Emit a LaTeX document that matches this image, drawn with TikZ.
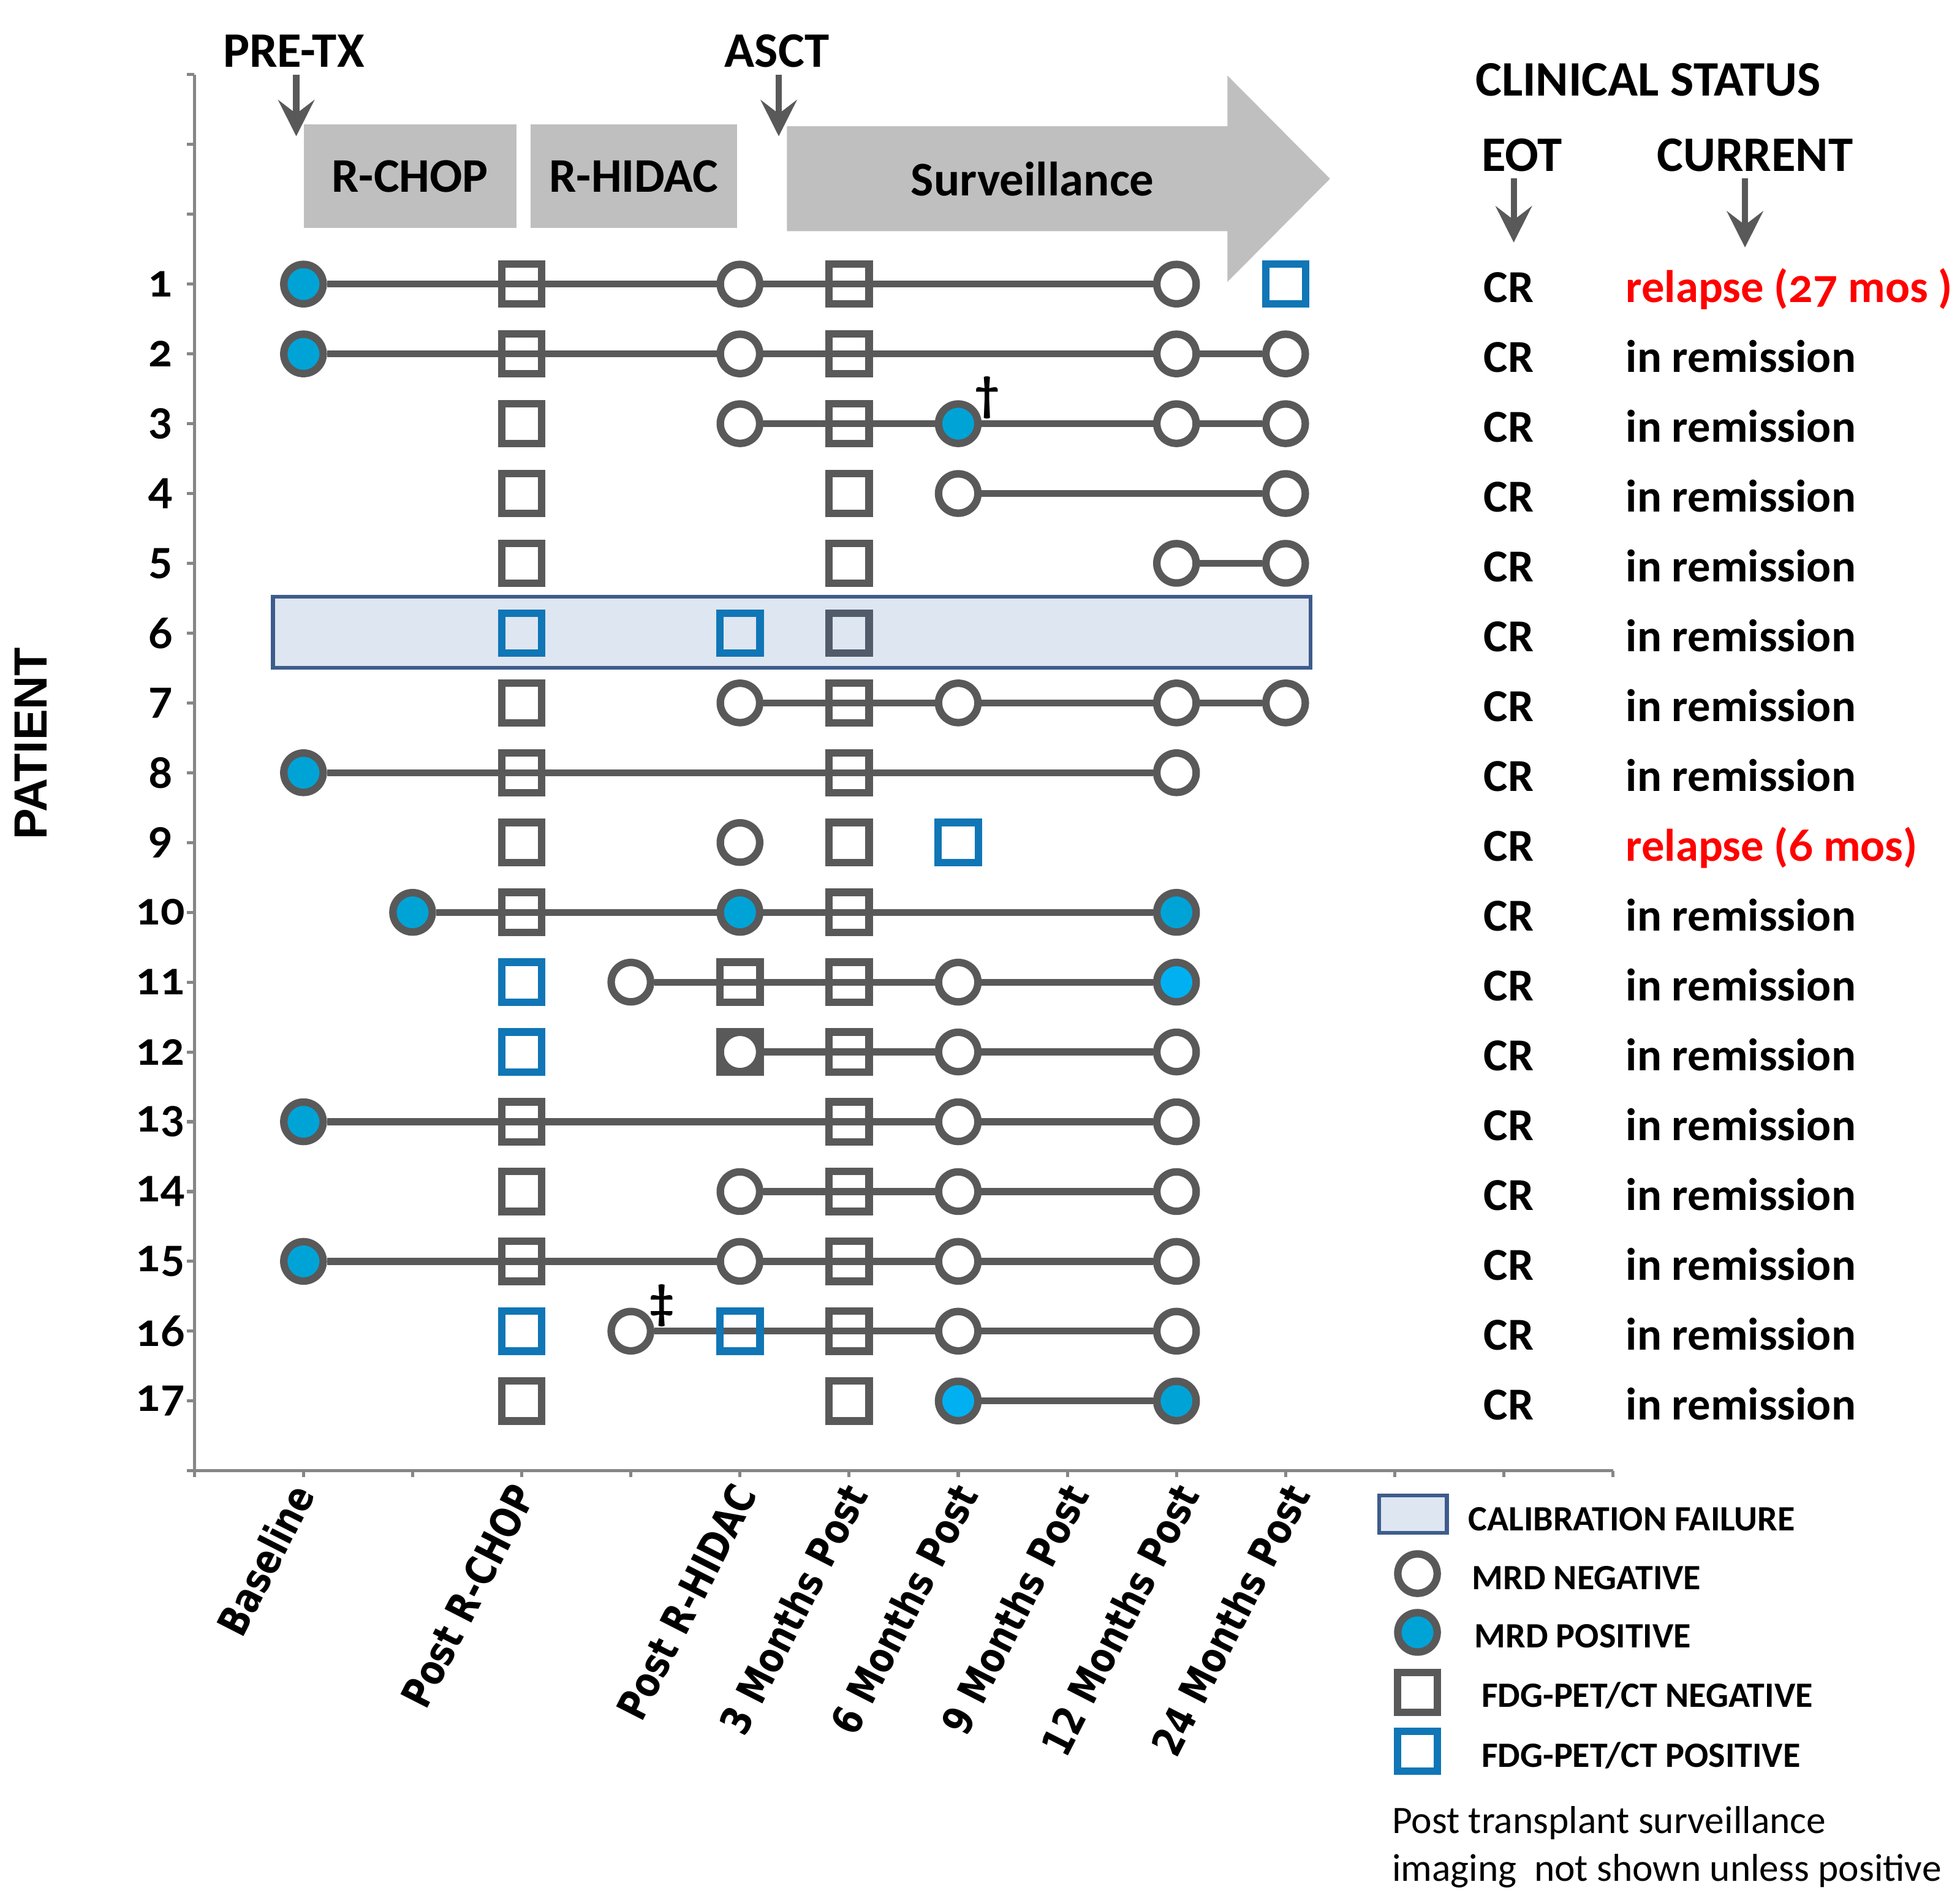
\documentclass[tikz,border=0pt]{standalone}
\usepackage{fontspec}
\setmainfont{Carlito}[Numbers=OldStyle]
\newfontfamily\numfont{Lato}[Numbers=OldStyle]
\newfontfamily\catfont{DejaVu Sans}[FakeStretch=0.82]
\newfontfamily\ptfont{Liberation Sans}
\usetikzlibrary{arrows.meta,positioning,backgrounds}

\definecolor{mkgray}{RGB}{89,89,89}
\definecolor{axgray}{RGB}{134,134,134}
\definecolor{bargray}{RGB}{191,191,191}
\definecolor{mrdcyan}{RGB}{0,163,214}
\definecolor{mrdlight}{RGB}{0,176,240}
\definecolor{petblue}{RGB}{16,118,182}
\definecolor{calfill}{RGB}{222,230,241}
\definecolor{caledge}{RGB}{62,92,140}
\definecolor{slategray}{RGB}{82,91,106}
\definecolor{relred}{RGB}{255,0,0}

\begin{document}
\begin{tikzpicture}[x=0.1mm,y=-0.1mm,
    mrdneg/.style={circle,draw=mkgray,line width=0.6mm,fill=white,inner sep=0pt,minimum size=3.15mm},
    mrdpos/.style={mrdneg,fill=mrdcyan},
    mrdbright/.style={mrdneg,fill=mrdlight},
    petneg/.style={rectangle,draw=mkgray,line width=0.6mm,inner sep=0pt,minimum size=3.2mm},
    petpos/.style={petneg,draw=petblue},
    link/.style={mkgray,line width=0.55mm},
    axline/.style={axgray,line width=0.25mm},
    phase/.style={inner sep=0pt,font=\fontsize{11}{13}\selectfont\bfseries},
    hdr/.style={inner sep=0.5mm,font=\fontsize{11.3}{13}\selectfont\bfseries},
    pointer/.style={mkgray,line width=0.5mm,-{Stealth[length=2.9mm,width=2.9mm,inset=1.1mm]}},
    status/.style={inner sep=0pt,font=\fontsize{10.4}{12}\selectfont\bfseries},
    rowlbl/.style={inner sep=0pt,font=\numfont\bfseries\fontsize{10.2}{12}\selectfont},
    catlbl/.style={anchor=east,rotate=63,inner sep=0pt,font=\catfont\bfseries\fontsize{9.4}{11}\selectfont},
    legtxt/.style={anchor=base west,inner sep=0pt,font=\fontsize{8.1}{10}\selectfont\bfseries},
    foot/.style={anchor=base west,inner sep=0pt,font=\fontsize{8.85}{11}\selectfont},
    daglbl/.style={inner sep=0pt,font=\fontsize{11}{13}\selectfont\bfseries}]
  \useasboundingbox (0,0) rectangle (1568,1512);

  %% ---- treatment phases ----
  \node[phase,fill=bargray,minimum width=17mm,minimum height=8.25mm] (rchop) at (328,141) {R-CHOP};
  \node[phase,fill=bargray,minimum width=16.5mm,minimum height=8.25mm] (rhidac) at (507,141) {R-HIDAC};
  \fill[bargray] (629.5,101) -- (982,101) -- (982,60.5) -- (1064,143)
    -- (982,225.5) -- (982,185) -- (629.5,185) -- cycle;
  \node[phase] (surv) at (826,143) {Surveillance};

  %% time points
  \node[hdr] (pretx) at (235,41) {PRE-TX};
  \node[hdr] (asct) at (621.5,41) {ASCT};
  \coordinate (pretxtip) at (237,109);
  \coordinate (ascttip) at (623,109);
  \draw[pointer] (pretxtip |- pretx.south) -- (pretxtip);
  \draw[pointer] (ascttip |- asct.south) -- (ascttip);

  %% ---- clinical status header ----
  \node[hdr] (clin) at (1318.5,64) {CLINICAL STATUS};
  \node[hdr] (eot) at (1217.5,124) {EOT};
  \node[hdr] (current) at (1404,124) {CURRENT};
  \coordinate (eottip) at (1211,194);
  \coordinate (currenttip) at (1396,198);
  \draw[pointer] (eottip |- eot.south) -- (eottip);
  \draw[pointer] (currenttip |- current.south) -- (currenttip);

  \node[rotate=90,inner sep=0pt,font=\ptfont\bfseries\fontsize{10.6}{12}\selectfont] (patient) at (24.5,595) {PATIENT};

  %% ---- chart: column = time point, row = patient ----
  \begin{scope}[shift={(15.55mm,-17.145mm)},x=8.73mm,y=-5.585mm]
    %% axes
    \draw[axline] (0,-2) -- (0,18) -- (13,18);
    \foreach \r in {-2,...,18} \draw[axline] (0,\r) -- ++(-0.6mm,0);
    \foreach \c in {0,...,13} \draw[axline] (\c,18) -- ++(0,-0.5mm);
    \foreach \r in {1,...,17} \node[rowlbl] (num-\r) at (-0.309,\r) {\r};
    \foreach \c/\t in {1/Baseline,3/Post R-CHOP,5/Post R-HIDAC,6/3 Months Post,
        7/6 Months Post,8/9 Months Post,9/12 Months Post,10/24 Months Post}
      \node[catlbl] (cat-\c) at ({1.0138*\c-0.0228},18.23) {\t};

    %% FDG-PET/CT squares
    \foreach \r/\c in {1/3,1/6,2/3,2/6,3/3,3/6,4/3,4/6,5/3,5/6,7/3,7/6,8/3,8/6,9/3,9/6,
        10/3,10/6,11/5,11/6,12/5,12/6,13/3,13/6,14/3,14/6,15/3,15/6,16/6,17/3,17/6}
      \node[petneg] (s-\r-\c) at (\c,\r) {};
    \node[petneg,draw=slategray] (s-6-6) at (6,6) {};
    \foreach \r/\c in {1/10,6/3,6/5,9/7,11/3,12/3,16/3,16/5}
      \node[petpos] (s-\r-\c) at (\c,\r) {};

    %% MRD circles
    \foreach \r/\c in {1/5,1/9,2/5,2/9,2/10,3/5,3/9,3/10,4/7,4/10,5/9,5/10,7/5,7/7,7/9,7/10,
        8/9,9/5,11/4,11/7,12/5,12/7,12/9,13/7,13/9,14/5,14/7,14/9,15/5,15/7,15/9,16/4,16/7,16/9}
      \node[mrdneg] (m-\r-\c) at (\c,\r) {};
    \foreach \r/\c in {1/1,2/1,3/7,8/1,10/2,10/5,10/9,13/1,15/1,17/9}
      \node[mrdpos] (m-\r-\c) at (\c,\r) {};
    \foreach \r/\c in {11/9,17/7}
      \node[mrdbright] (m-\r-\c) at (\c,\r) {};

    \node[daglbl] (dag) at ([xshift=2.3mm,yshift=2.1mm]m-3-7) {\textdagger};
    \node[daglbl] (ddag) at ([xshift=2.45mm,yshift=2.05mm]m-16-4) {\textdaggerdbl};

    %% calibration failure band and follow-up lines
    \begin{scope}[on background layer]
      \filldraw[fill=calfill,draw=caledge,line width=0.3mm] (0.72,5.48) rectangle (10.23,6.5);
      \foreach \r/\a/\b in {1/1/9,2/1/10,3/5/10,4/7/10,5/9/10,7/5/10,8/1/9,10/2/9,11/4/9,
          12/5/9,13/1/9,14/5/9,15/1/9,16/4/9,17/7/9}
        \draw[link] (m-\r-\a) -- (m-\r-\b);
    \end{scope}

    %% status columns
    \foreach \r in {1,...,17} \node[status,anchor=base] (eot-\r) at (12.045,\r+0.265) {CR};
    \node[status,anchor=base west,text=relred] (cur-1) at (13.11,1.265) {relapse ({\numfont 27} mos )};
    \node[status,anchor=base west,text=relred] (cur-9) at (13.11,9.265) {relapse ({\numfont 6} mos)};
    \foreach \r in {2,...,8,10,11,...,17}
      \node[status,anchor=base west] (cur-\r) at (13.11,\r+0.265) {in remission};
  \end{scope}

  %% ---- legend ----
  \node[draw=caledge,fill=calfill,line width=0.3mm,minimum width=5.4mm,minimum height=3mm,inner sep=0pt] (legcal) at (1130.5,1211.5) {};
  \node[mrdneg] (legneg) at (1134,1259) {};
  \node[mrdpos] (legpos) at (1134,1306) {};
  \node[petneg] (legpetneg) at (1134,1354) {};
  \node[petpos] (legpetpos) at (1134,1401) {};
  \node[legtxt] (txtcal) at (1174,1224.5) {CALIBRATION FAILURE};
  \node[legtxt] (txtneg) at (1177,1271.6) {MRD NEGATIVE};
  \node[legtxt] (txtpos) at (1179,1318.5) {MRD POSITIVE};
  \node[legtxt] (txtpetneg) at (1184.5,1365.8) {FDG-PET/CT NEGATIVE};
  \node[legtxt] (txtpetpos) at (1184.5,1414) {FDG-PET/CT POSITIVE};
  \node[foot] (foot1) at (1113,1466.6) {Post transplant surveillance};
  \node[foot] (foot2) at (1113,1505) {imaging\ \ not shown unless positive};
\end{tikzpicture}
\end{document}
